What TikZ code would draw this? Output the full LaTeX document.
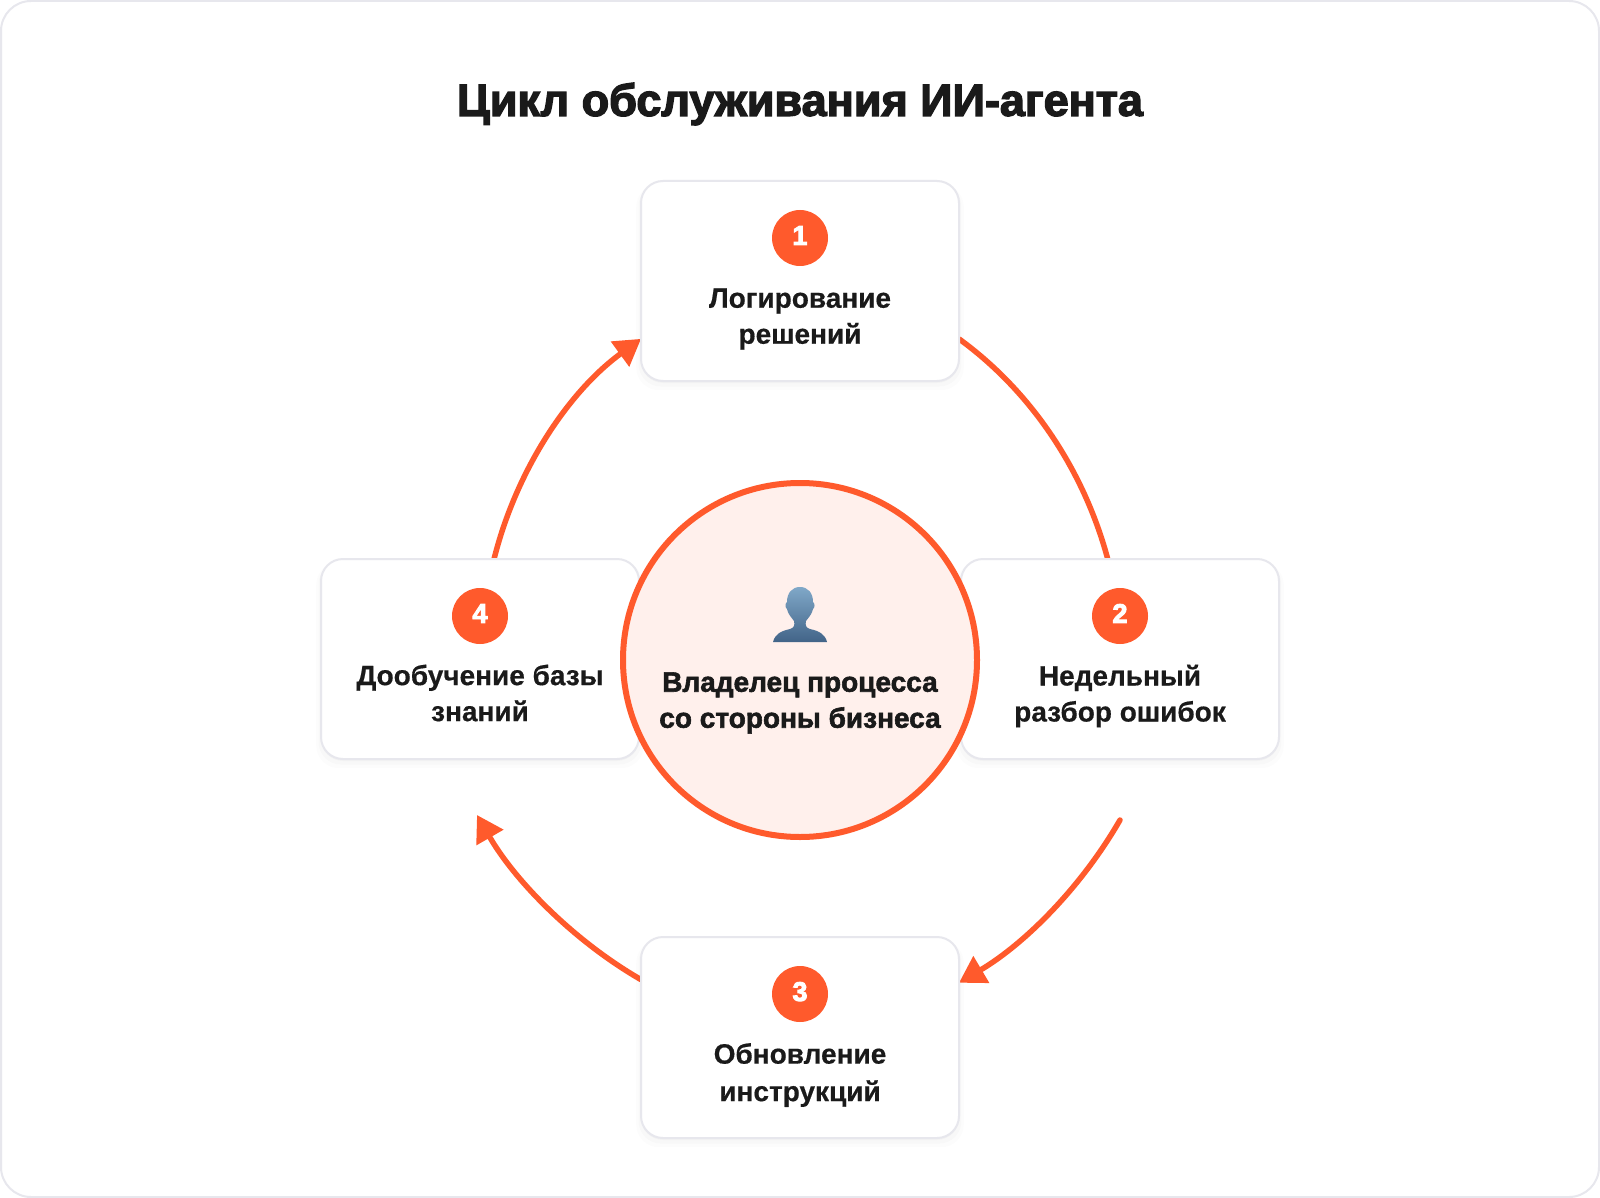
\documentclass[tikz,border=0pt]{standalone}
\usepackage{fontspec}
\setmainfont[BoldFeatures={FakeBold=0.5}]{Liberation Sans}
\newfontfamily\titlefont[BoldFeatures={FakeBold=3}]{Liberation Sans}
\newfontfamily\ownerfont[BoldFeatures={FakeBold=2}]{Liberation Sans}
\newfontfamily\digitfont[BoldFeatures={FakeBold=3.5}]{Liberation Sans}
\usetikzlibrary{arrows.meta,backgrounds,shadows}
\definecolor{accent}{HTML}{FF5A2C}
\definecolor{ownerfill}{HTML}{FFF0EC}
\definecolor{ink}{HTML}{1A1A1A}
\definecolor{edge}{HTML}{E7E7ED}
\definecolor{persontop}{HTML}{80A8C8}
\definecolor{personbot}{HTML}{426488}
\tikzset{
  card/.style={draw=edge, line width=2pt, fill=white, rounded corners=22pt, inner sep=0pt, outer sep=0pt,
    minimum width=318pt, minimum height=200pt,
    drop shadow={shadow xshift=0pt, shadow yshift=-6pt, shadow scale=1.03, opacity=.012, fill=black},
    drop shadow={shadow xshift=0pt, shadow yshift=-4pt, shadow scale=1.015, opacity=.015, fill=black},
    drop shadow={shadow xshift=0pt, shadow yshift=-2pt, shadow scale=1, opacity=.02, fill=black}},
  badge/.style={circle, fill=accent, text=white, minimum size=56pt, inner sep=0pt,
    font=\digitfont\fontsize{27}{27}\selectfont\bfseries},
  cardtext/.style={align=center, text=ink, inner sep=0pt, font=\fontsize{28}{36}\selectfont\bfseries},
  loopline/.style={draw=accent, line width=5.5pt},
  looparrow/.style={loopline, -{Triangle[length=26pt, width=30pt]}}
}
\begin{document}
\begin{tikzpicture}[x=1pt, y=-1pt]
  \useasboundingbox (0, 0) rectangle (1600, 1198);
  % cards
  \node[card] (card1) at (800, 281) {};
  \node[card] (card2) at (1120, 659) {};
  \node[card, minimum height=201pt] (card3) at (800, 1037.5) {};
  \node[card] (card4) at (480, 659) {};
  \node[badge] (badge1) at (800, 238) {\raisebox{5pt}{1}};
  \node[badge] (badge2) at (1120, 616) {\raisebox{5pt}{2}};
  \node[badge] (badge3) at (800, 994) {\raisebox{5pt}{3}};
  \node[badge] (badge4) at (480, 616) {\raisebox{5pt}{4}};
  \node[cardtext] (label1) at (800, 319) {Логирование\\решений};
  \node[cardtext] (label2) at (1120, 696) {Недельный\\разбор ошибок};
  \node[cardtext, font=\fontsize{28}{37.5}\selectfont\bfseries] (label3) at (800, 1075) {Обновление\\инструкций};
  \node[cardtext] (label4) at (480, 693) {Дообучение базы\\знаний};
  % free ends of the loop
  \coordinate (start2) at (1120, 820);
  \coordinate (tip4) at (477, 815);
  \begin{scope}[on background layer]
    \node[draw=edge, line width=2pt, fill=white, rounded corners=30pt, inner sep=0pt,
      minimum width=1598pt, minimum height=1196pt] (frame) at (800, 599) {};
    \draw[loopline] (card1.-20.6) .. controls (1032, 392) and (1084, 471) .. (card2.97.3);
    \draw[looparrow, line cap=round] (start2) .. controls (1082, 886) and (1026, 943) .. (card3.19.1);
    \draw[looparrow] (card3.160.2) .. controls (574, 941) and (515, 881) .. (tip4);
    \draw[looparrow] (card4.82.7) .. controls (516, 471) and (568, 392) .. (card1.200);
  \end{scope}
  % centre
  \node[circle, draw=accent, line width=6pt, fill=ownerfill, minimum size=354pt, inner sep=0pt, outer sep=0pt] (owner) at (800, 660) {};
  \shade[top color=persontop, bottom color=personbot]
    (773, 642) .. controls (775, 634) and (781, 631) .. (790, 629)
    .. controls (794, 628) and (795, 625) .. (794, 621)
    .. controls (791, 617) and (788, 614) .. (787, 609)
    .. controls (785, 608) and (785, 603) .. (787, 602)
    .. controls (787, 593) and (792, 587) .. (800, 587)
    .. controls (808, 587) and (813, 593) .. (813, 602)
    .. controls (815, 603) and (815, 608) .. (813, 609)
    .. controls (812, 614) and (809, 617) .. (806, 621)
    .. controls (805, 625) and (806, 628) .. (810, 629)
    .. controls (819, 631) and (825, 634) .. (827, 642) -- cycle;
  \node[align=center, text=ink, inner sep=0pt, font=\ownerfont\fontsize{28}{36}\selectfont\bfseries] (ownertext) at (800, 703) {Владелец процесса\\со стороны бизнеса};
  % title
  \node[text=ink, inner sep=0pt, font=\titlefont\fontsize{45}{54}\selectfont\bfseries] (title) at (800, 104) {Цикл обслуживания ИИ-агента};
\end{tikzpicture}
\end{document}
